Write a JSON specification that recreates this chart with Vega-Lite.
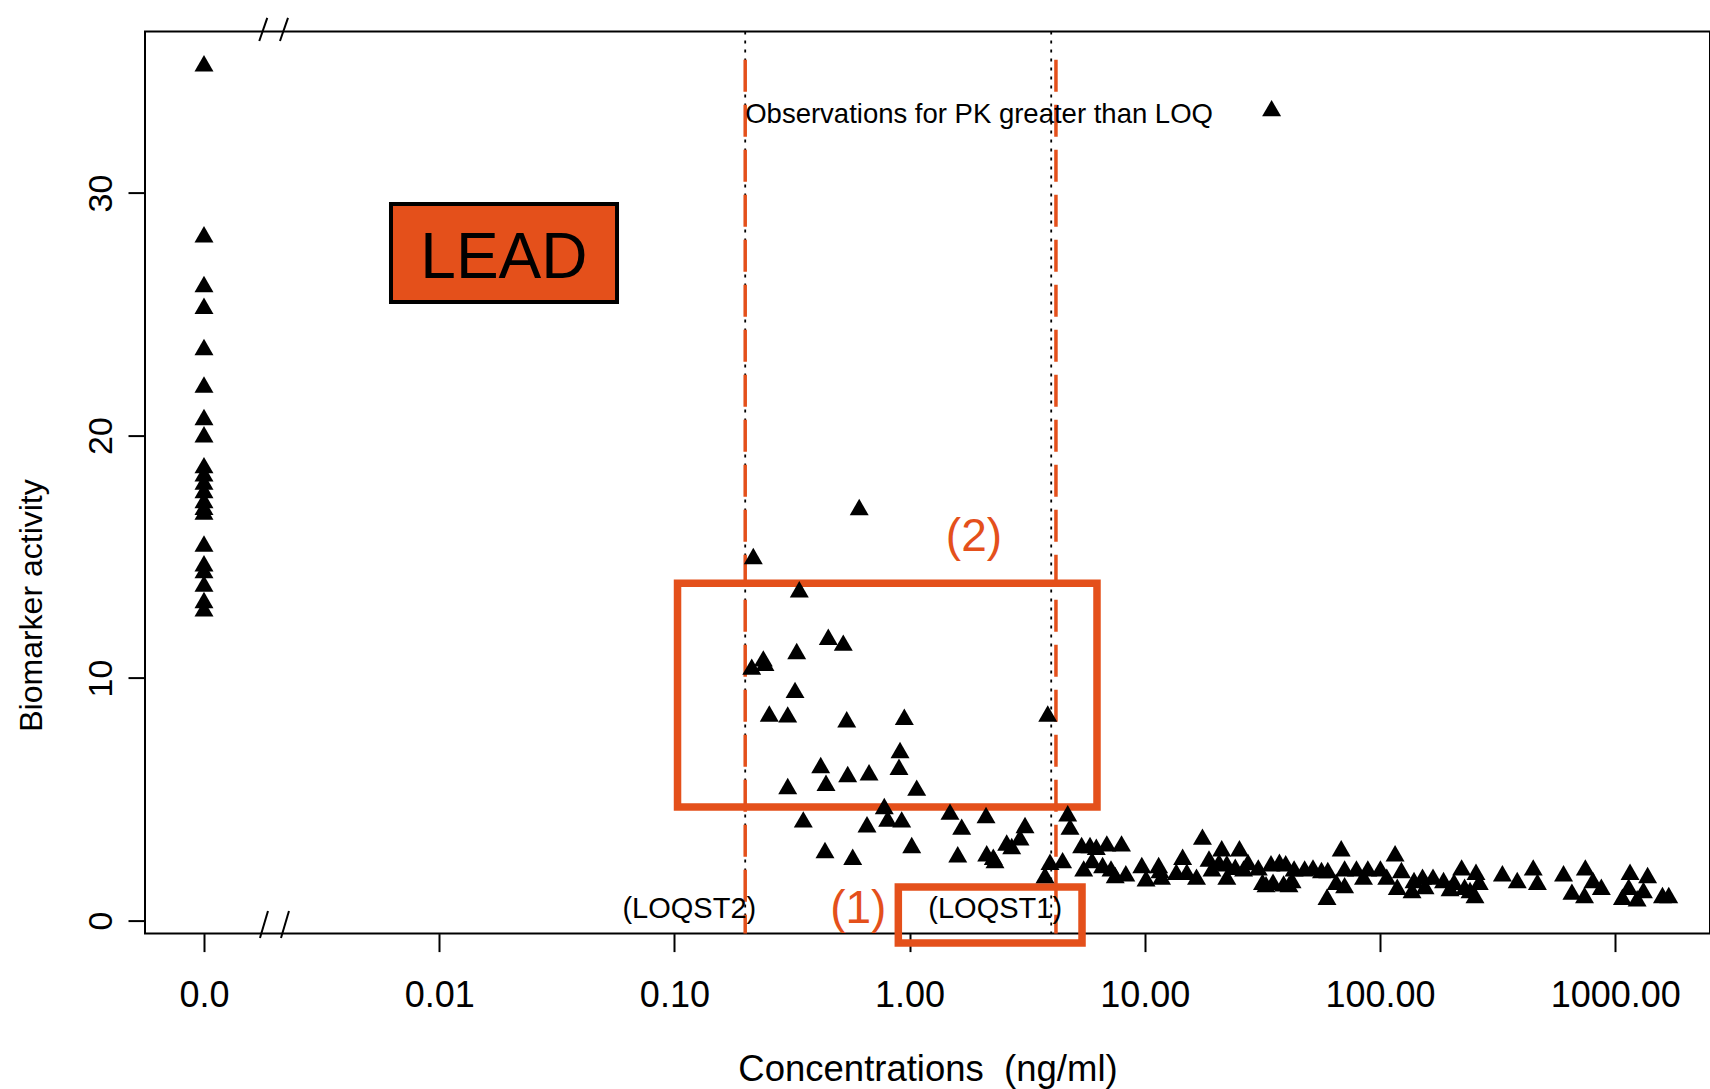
{
  "$schema": "https://vega.github.io/schema/vega-lite/v6.json",
  "width": 1565,
  "height": 902,
  "autosize": {"type": "none"},
  "padding": {"left": 145, "top": 31.6, "right": 0, "bottom": 155.4},
  "background": "white",
  "config": {
    "view": {"stroke": "black", "strokeWidth": 2},
    "font": "Liberation Sans",
    "axis": {"grid": false, "domain": false, "tickColor": "black", "tickWidth": 2, "labelColor": "black", "titleColor": "black", "labelFont": "Liberation Sans", "titleFont": "Liberation Sans", "titleFontWeight": "normal", "labelOverlap": false, "labelFlush": false}
  },
  "encoding": {
    "x": {
      "field": "x", "type": "quantitative",
      "scale": {"type": "log", "domain": [0.0005613, 2529], "nice": false, "zero": false},
      "axis": {
        "values": [0.001, 0.01, 0.1, 1, 10, 100, 1000],
        "labelExpr": "datum.value < 0.005 ? '0.0' : format(datum.value, '.2f')",
        "tickSize": 18, "labelPadding": 27, "labelFontSize": 36, "labelBaseline": "top", "labelAlign": "center",
        "title": "Concentrations\u00a0 (ng/ml)", "titleFontSize": 36.5, "titleY": 147, "titleBaseline": "alphabetic"
      }
    },
    "y": {
      "field": "y", "type": "quantitative",
      "scale": {"domain": [-0.54, 36.656], "nice": false, "zero": false},
      "axis": {
        "values": [0, 10, 20, 30],
        "tickSize": 17, "labelPadding": 10, "labelFontSize": 34, "labelAngle": 270, "labelAlign": "center", "labelBaseline": "bottom",
        "title": "Biomarker activity", "titleFontSize": 32, "titleAngle": 270, "titleX": -104, "titleY": 573.4, "titleAlign": "center", "titleBaseline": "alphabetic"
      }
    }
  },
  "layer": [
    {
      "data": {"values": [{"x": 0.2, "y": 36.656, "y2": -0.54}, {"x": 4.0, "y": 36.656, "y2": -0.54}]},
      "mark": {"type": "rule", "color": "black", "strokeWidth": 1.8, "strokeDash": [3, 6]},
      "encoding": {"y2": {"field": "y2"}}
    },
    {
      "data": {"values": [{"x": 0.2, "y": 35.5, "y2": -0.54}, {"x": 4.19, "y": 35.5, "y2": -0.54}]},
      "mark": {"type": "rule", "color": "#E4501B", "strokeWidth": 3.5, "strokeDash": [32, 13]},
      "encoding": {"y2": {"field": "y2"}}
    },
    {
      "data": {"values": [{"x": 0.006238, "x2": 0.05702, "y": 29.55, "y2": 25.51}]},
      "mark": {"type": "rect", "fill": "#E4501B", "stroke": "black", "strokeWidth": 4},
      "encoding": {"x2": {"field": "x2"}, "y2": {"field": "y2"}}
    },
    {
      "data": {"values": [{"x": 0.1031, "x2": 6.262, "y": 13.905, "y2": 4.68}, {"x": 0.8954, "x2": 5.408, "y": 1.381, "y2": -0.928}]},
      "mark": {"type": "rect", "fill": null, "fillOpacity": 0, "stroke": "#E4501B", "strokeWidth": 7.5},
      "encoding": {"x2": {"field": "x2"}, "y2": {"field": "y2"}}
    },
    {
      "data": {"values": [
        {"x": 0.001718, "x2": 0.001858, "y": 36.27, "y2": 37.22},
        {"x": 0.002104, "x2": 0.002276, "y": 36.27, "y2": 37.22},
        {"x": 0.001730, "x2": 0.001871, "y": -0.722, "y2": 0.392},
        {"x": 0.002125, "x2": 0.002298, "y": -0.722, "y2": 0.392}
      ]},
      "mark": {"type": "rule", "color": "black", "strokeWidth": 2},
      "encoding": {"x2": {"field": "x2"}, "y2": {"field": "y2"}}
    },
    {
      "data": {"values": [
        {"x": 0.001, "y": 35.35}, {"x": 0.001, "y": 28.3}, {"x": 0.001, "y": 26.25}, {"x": 0.001, "y": 25.35}, {"x": 0.001, "y": 23.65},
        {"x": 0.001, "y": 22.1}, {"x": 0.001, "y": 20.76}, {"x": 0.001, "y": 20.05}, {"x": 0.001, "y": 18.78}, {"x": 0.001, "y": 18.44},
        {"x": 0.001, "y": 18.1}, {"x": 0.001, "y": 17.75}, {"x": 0.001, "y": 17.34}, {"x": 0.001, "y": 17.06}, {"x": 0.001, "y": 16.86},
        {"x": 0.001, "y": 15.55}, {"x": 0.001, "y": 14.73}, {"x": 0.001, "y": 14.45}, {"x": 0.001, "y": 13.9}, {"x": 0.001, "y": 13.22},
        {"x": 0.001, "y": 12.87},
        {"x": 0.2165, "y": 15.03}, {"x": 0.3396, "y": 13.66}, {"x": 0.4511, "y": 11.70}, {"x": 0.5224, "y": 11.46}, {"x": 0.3311, "y": 11.11},
        {"x": 0.2388, "y": 10.81}, {"x": 0.2132, "y": 10.47}, {"x": 0.2427, "y": 10.63}, {"x": 0.3257, "y": 9.51}, {"x": 0.2532, "y": 8.54},
        {"x": 0.3032, "y": 8.50}, {"x": 0.5403, "y": 8.30}, {"x": 0.9495, "y": 8.40}, {"x": 3.866, "y": 8.54}, {"x": 0.9104, "y": 7.03},
        {"x": 0.9013, "y": 6.34}, {"x": 0.4188, "y": 6.41}, {"x": 0.5455, "y": 6.04}, {"x": 0.6722, "y": 6.11}, {"x": 0.4411, "y": 5.68},
        {"x": 0.3032, "y": 5.55}, {"x": 1.072, "y": 5.48}, {"x": 0.6105, "y": 17.05},
        {"x": 0.7805, "y": 4.72}, {"x": 0.3532, "y": 4.17}, {"x": 0.659, "y": 3.97}, {"x": 0.807, "y": 4.21}, {"x": 0.9255, "y": 4.17},
        {"x": 1.485, "y": 4.49}, {"x": 2.113, "y": 4.35}, {"x": 1.665, "y": 3.87}, {"x": 3.095, "y": 3.94}, {"x": 2.947, "y": 3.43},
        {"x": 2.587, "y": 3.22}, {"x": 2.717, "y": 3.07}, {"x": 1.021, "y": 3.11}, {"x": 0.4368, "y": 2.91}, {"x": 0.5729, "y": 2.63},
        {"x": 1.602, "y": 2.73}, {"x": 2.127, "y": 2.77}, {"x": 2.269, "y": 2.63}, {"x": 2.307, "y": 2.49}, {"x": 3.953, "y": 2.42},
        {"x": 3.764, "y": 1.88}, {"x": 4.701, "y": 4.42}, {"x": 4.808, "y": 3.87},
        {"x": 4.472, "y": 2.49}, {"x": 5.387, "y": 3.11}, {"x": 5.848, "y": 3.11}, {"x": 6.22, "y": 3.04}, {"x": 6.893, "y": 3.18},
        {"x": 7.961, "y": 3.18}, {"x": 5.498, "y": 2.15}, {"x": 5.965, "y": 2.49}, {"x": 6.616, "y": 2.29}, {"x": 7.184, "y": 2.15},
        {"x": 7.484, "y": 1.88}, {"x": 8.304, "y": 1.95}, {"x": 9.71, "y": 2.29}, {"x": 11.45, "y": 2.29}, {"x": 10.12, "y": 1.74},
        {"x": 11.78, "y": 1.81}, {"x": 14.48, "y": 2.63}, {"x": 13.61, "y": 2.01}, {"x": 15.09, "y": 2.01}, {"x": 16.59, "y": 1.81},
        {"x": 17.58, "y": 3.46}, {"x": 18.75, "y": 2.56}, {"x": 21.23, "y": 2.98}, {"x": 25.25, "y": 2.98}, {"x": 19.31, "y": 2.15},
        {"x": 22.32, "y": 2.36}, {"x": 22.32, "y": 1.81}, {"x": 24.24, "y": 2.22}, {"x": 26.3, "y": 2.15}, {"x": 30.37, "y": 2.19},
        {"x": 31.65, "y": 1.6}, {"x": 34.4, "y": 2.36}, {"x": 37.35, "y": 2.42}, {"x": 39.72, "y": 2.36}, {"x": 35.09, "y": 1.6},
        {"x": 38.91, "y": 1.53}, {"x": 42.26, "y": 1.67}, {"x": 43.13, "y": 2.15}, {"x": 47.8, "y": 2.15}, {"x": 51.89, "y": 2.19},
        {"x": 56.39, "y": 2.08}, {"x": 59.98, "y": 2.08}, {"x": 59.51, "y": 0.98}, {"x": 68.39, "y": 2.98}, {"x": 70.71, "y": 2.15},
        {"x": 79.38, "y": 2.15}, {"x": 88.76, "y": 2.15}, {"x": 65.14, "y": 1.6}, {"x": 70.71, "y": 1.46}, {"x": 85.07, "y": 1.81},
        {"x": 100.4, "y": 2.15}, {"x": 115.9, "y": 2.77}, {"x": 123.3, "y": 2.08}, {"x": 106.8, "y": 1.81}, {"x": 118.4, "y": 1.39},
        {"x": 139.5, "y": 1.67}, {"x": 136.8, "y": 1.26}, {"x": 151.6, "y": 1.81}, {"x": 168, "y": 1.81}, {"x": 186.2, "y": 1.67},
        {"x": 206.4, "y": 1.6}, {"x": 228.9, "y": 1.39}, {"x": 253.4, "y": 1.05}, {"x": 222.3, "y": 2.19}, {"x": 255.9, "y": 2.01},
        {"x": 264.3, "y": 1.6}, {"x": 331.4, "y": 1.95}, {"x": 383.1, "y": 1.67}, {"x": 448.1, "y": 2.19}, {"x": 466.9, "y": 1.6},
        {"x": 602.9, "y": 1.95}, {"x": 654.4, "y": 1.19}, {"x": 740.5, "y": 1.05}, {"x": 746.3, "y": 2.19}, {"x": 803.9, "y": 1.67},
        {"x": 872.9, "y": 1.39}, {"x": 1156, "y": 2.01}, {"x": 1373, "y": 1.88}, {"x": 1073, "y": 0.98}, {"x": 1239, "y": 0.92},
        {"x": 1318, "y": 1.26}, {"x": 1141, "y": 1.39}, {"x": 1588, "y": 1.05}, {"x": 1689, "y": 1.05},
        {"x": 32.76, "y": 1.5}, {"x": 41.02, "y": 1.5}, {"x": 155.4, "y": 1.42}, {"x": 198.5, "y": 1.34}, {"x": 241.4, "y": 1.26},
        {"x": 11.6, "y": 2.08}, {"x": 20.68, "y": 2.41}, {"x": 27.47, "y": 2.41},
        {"x": 34.6, "y": 33.5}
      ]},
      "mark": {"type": "point", "shape": "triangle-up", "filled": true, "color": "black", "opacity": 1, "size": 360, "strokeWidth": 0}
    },
    {
      "data": {"values": [{"x": 0.2, "y": 33.2, "label": "Observations for PK greater than LOQ"}]},
      "mark": {"type": "text", "align": "left", "baseline": "middle", "fontSize": 27.5, "font": "Liberation Sans", "color": "black"},
      "encoding": {"text": {"field": "label"}}
    },
    {
      "data": {"values": [{"x": 0.1157, "y": 0.495, "label": "(LOQST2)"}, {"x": 2.311, "y": 0.495, "label": "(LOQST1)"}]},
      "mark": {"type": "text", "align": "center", "baseline": "middle", "fontSize": 29, "font": "Liberation Sans", "color": "black"},
      "encoding": {"text": {"field": "label"}}
    },
    {
      "data": {"values": [{"x": 0.01884, "y": 27.28, "label": "LEAD"}]},
      "mark": {"type": "text", "align": "center", "baseline": "middle", "fontSize": 64, "font": "Liberation Sans", "color": "black"},
      "encoding": {"text": {"field": "label"}}
    },
    {
      "data": {"values": [{"x": 1.877, "y": 15.83, "label": "(2)"}, {"x": 0.605, "y": 0.495, "label": "(1)"}]},
      "mark": {"type": "text", "align": "center", "baseline": "middle", "fontSize": 46, "font": "Liberation Sans", "color": "#E4501B"},
      "encoding": {"text": {"field": "label"}}
    }
  ]
}
